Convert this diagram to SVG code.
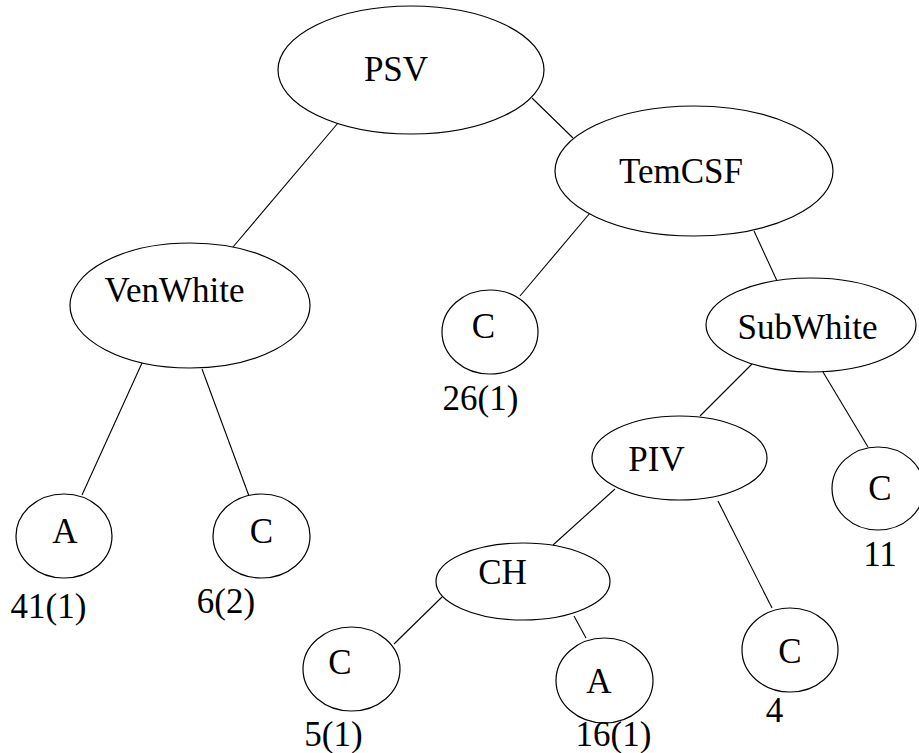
<svg xmlns="http://www.w3.org/2000/svg" width="919" height="753" viewBox="0 0 919 753">
  <style>
    .node { fill: #ffffff; stroke: #000000; stroke-width: 1.2; }
    .edge { stroke: #000000; stroke-width: 1.1; fill: none; }
    text { font-family: "Liberation Serif", "Times New Roman", serif; font-size: 35px; fill: #000000; text-anchor: middle; }
  </style>
  <rect width="919" height="753" fill="#ffffff"/>

  <!-- tree edges -->
  <g id="connectors">
    <line class="edge" x1="338" y1="123" x2="233" y2="247"/>
    <line class="edge" x1="532" y1="98" x2="573" y2="138"/>
    <line class="edge" x1="590" y1="213" x2="520" y2="296"/>
    <line class="edge" x1="754" y1="231" x2="778" y2="283"/>
    <line class="edge" x1="142" y1="363" x2="82" y2="495"/>
    <line class="edge" x1="202" y1="369" x2="249" y2="496"/>
    <line class="edge" x1="752" y1="364" x2="700" y2="416"/>
    <line class="edge" x1="820" y1="367" x2="868" y2="447"/>
    <line class="edge" x1="615" y1="489" x2="553" y2="545"/>
    <line class="edge" x1="718" y1="501" x2="772" y2="608"/>
    <line class="edge" x1="442" y1="597" x2="394" y2="644"/>
    <line class="edge" x1="574" y1="616" x2="586" y2="638"/>
  </g>

  <g id="psv">
    <ellipse class="node" cx="411" cy="70" rx="133" ry="64"/>
    <text x="396" y="81">PSV</text>
  </g>
  <g id="temcsf">
    <ellipse class="node" cx="694" cy="171" rx="139" ry="65"/>
    <text x="681" y="183">TemCSF</text>
  </g>
  <g id="venwhite">
    <ellipse class="node" cx="190" cy="305.5" rx="120" ry="62.5"/>
    <text x="174.5" y="302">VenWhite</text>
  </g>
  <g id="c-temcsf">
    <ellipse class="node" cx="490" cy="332" rx="48" ry="42"/>
    <text x="483.5" y="338">C</text>
    <text x="480.5" y="410">26(1)</text>
  </g>
  <g id="subwhite">
    <ellipse class="node" cx="811" cy="325" rx="105" ry="47"/>
    <text x="807.5" y="339">SubWhite</text>
  </g>
  <g id="a-venwhite">
    <ellipse class="node" cx="64" cy="536" rx="48" ry="42"/>
    <text x="65" y="543">A</text>
    <text x="48.5" y="618">41(1)</text>
  </g>
  <g id="c-venwhite">
    <ellipse class="node" cx="261.5" cy="536" rx="48.5" ry="42"/>
    <text x="261.5" y="543">C</text>
    <text x="226" y="613">6(2)</text>
  </g>
  <g id="piv">
    <ellipse class="node" cx="679.5" cy="458" rx="87.5" ry="42"/>
    <text x="656.5" y="471">PIV</text>
  </g>
  <g id="c-subwhite">
    <ellipse class="node" cx="878" cy="488.5" rx="46" ry="41.5"/>
    <text x="880" y="500">C</text>
    <text x="880" y="566">11</text>
  </g>
  <g id="ch">
    <ellipse class="node" cx="523" cy="581.5" rx="87" ry="38.5"/>
    <text x="502.5" y="584">CH</text>
  </g>
  <g id="c-ch">
    <ellipse class="node" cx="351.5" cy="669" rx="48.5" ry="42"/>
    <text x="340" y="674">C</text>
    <text x="333.5" y="746">5(1)</text>
  </g>
  <g id="a-ch">
    <ellipse class="node" cx="604.5" cy="680.5" rx="48.5" ry="42.5"/>
    <text x="599" y="693">A</text>
    <text x="613.5" y="746">16(1)</text>
  </g>
  <g id="c-piv">
    <ellipse class="node" cx="790" cy="650" rx="48" ry="42"/>
    <text x="790" y="663">C</text>
    <text x="774.5" y="722">4</text>
  </g>
</svg>
